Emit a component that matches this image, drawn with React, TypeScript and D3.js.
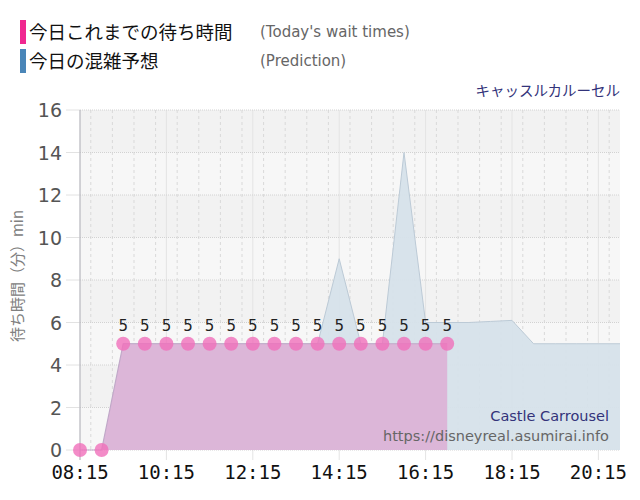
import { useEffect, useRef } from "react";
import * as d3 from "d3";

const actualTimes = [
  "08:15","08:45","09:15","09:45","10:15","10:45","11:15","11:45","12:15",
  "12:45","13:15","13:45","14:15","14:45","15:15","15:45","16:15","16:45",
];
const actualValues = [0,0,5,5,5,5,5,5,5,5,5,5,5,5,5,5,5,5];

const predTimes = [
  "09:15","09:45","10:15","10:45","11:15","11:45","12:15","12:45","13:15",
  "13:45","14:15","14:45","15:15","15:45","16:15","16:45","17:15","17:45",
  "18:15","18:45","19:15","19:45","20:15","20:45",
];
const predValues = [5,5,5,5,5,5,5,5,5,5,9,5,5,14,6,6,6,6.05,6.1,5,5,5,5,5];

const xTickLabels = ["08:15","10:15","12:15","14:15","16:15","18:15","20:15"];
const yTicks = [0,2,4,6,8,10,12,14,16];
const domainStart = "08:15";
const domainEnd = "20:45";

const W = 640;
const H = 500;
const M = { left: 80, right: 20, top: 110, bottom: 50 };

export default function App() {
  const svgRef = useRef<SVGSVGElement>(null);

  useEffect(() => {
    if (!svgRef.current) return;
    const el = svgRef.current;
    d3.select(el).selectAll("*").remove();
    const svg = d3.select(el).attr("width", W).attr("height", H);

    const parse = d3.timeParse("%H:%M");
    const x = d3.scaleTime()
      .domain([parse(domainStart)!, parse(domainEnd)!])
      .range([M.left, W - M.right]);
    const y = d3.scaleLinear().domain([0, 16]).range([H - M.bottom, M.top]);

    const actual = actualTimes.map((t, i) => ({ t: parse(t)!, v: actualValues[i] }));
    const pred = predTimes.map((t, i) => ({ t: parse(t)!, v: predValues[i] }));

    const x0 = M.left, x1 = W - M.right;
    const font = "'DejaVu Sans', Verdana, sans-serif";
    const jp = "'Noto Sans CJK JP', sans-serif";

    // background bands (alternating, top band darker)
    for (let i = 0; i < yTicks.length - 1; i++) {
      const a = yTicks[i], b = yTicks[i + 1];
      svg.append("rect")
        .attr("x", x0).attr("y", y(b))
        .attr("width", x1 - x0).attr("height", y(a) - y(b))
        .attr("fill", i % 2 === 0 ? "#f7f7f7" : "#f2f2f2");
    }

    // vertical minor grid every 30 min
    const minor = d3.timeMinute.every(30)!.range(parse(domainStart)!, d3.timeMinute.offset(parse(domainEnd)!, 1));
    svg.append("g").selectAll("line")
      .data(minor)
      .join("line")
      .attr("x1", (d) => x(d)).attr("x2", (d) => x(d))
      .attr("y1", y(16)).attr("y2", y(0))
      .attr("stroke", "#d9d9d9").attr("stroke-dasharray", "3,3");

    // major vertical lines
    const majors = xTickLabels.map((t) => parse(t)!);
    svg.append("g").selectAll("line")
      .data(majors)
      .join("line")
      .attr("x1", (d) => x(d)).attr("x2", (d) => x(d))
      .attr("y1", y(16)).attr("y2", y(0) + 10)
      .attr("stroke", "#e4e4e4");

    // horizontal grid
    svg.append("g").selectAll("line")
      .data(yTicks)
      .join("line")
      .attr("x1", x0).attr("x2", x1)
      .attr("y1", (d) => y(d)).attr("y2", (d) => y(d))
      .attr("stroke", "#d2d2d2").attr("stroke-dasharray", "1,1");
    svg.append("g").selectAll("line")
      .data(yTicks)
      .join("line")
      .attr("x1", x0 - 14).attr("x2", x0)
      .attr("y1", (d) => y(d)).attr("y2", (d) => y(d))
      .attr("stroke", "#e2e2e2");

    // left axis
    svg.append("line")
      .attr("x1", x0).attr("x2", x0)
      .attr("y1", y(16)).attr("y2", y(0) + 10)
      .attr("stroke", "#b4b4bc");

    const area = d3.area<{ t: Date; v: number }>()
      .x((d) => x(d.t)).y0(y(0)).y1((d) => y(d.v));
    const line = d3.line<{ t: Date; v: number }>()
      .x((d) => x(d.t)).y((d) => y(d.v));

    // prediction area
    svg.append("path").datum(pred)
      .attr("d", area).attr("fill", "#d6e1ea").attr("opacity", 0.95);
    svg.append("path").datum(pred)
      .attr("d", line).attr("fill", "none").attr("stroke", "#bccad6").attr("stroke-width", 1);

    // actual area
    svg.append("path").datum(actual)
      .attr("d", area).attr("fill", "#dcb6d8");
    svg.append("path").datum(actual)
      .attr("d", line).attr("fill", "none").attr("stroke", "#c0a8c8").attr("stroke-width", 1.2);

    svg.append("g").selectAll("circle")
      .data(actual)
      .join("circle")
      .attr("cx", (d) => x(d.t)).attr("cy", (d) => y(d.v))
      .attr("r", 7)
      .attr("fill", "#f06fba").attr("opacity", 0.8);

    svg.append("g").selectAll("text")
      .data(actual.filter((d) => d.v > 0))
      .join("text")
      .attr("x", (d) => x(d.t)).attr("y", (d) => y(d.v) - 13)
      .attr("text-anchor", "middle")
      .attr("font-family", font).attr("font-size", 15).attr("fill", "#222")
      .text((d) => d.v);

    // y tick labels
    svg.append("g").selectAll("text")
      .data(yTicks)
      .join("text")
      .attr("x", 62).attr("y", (d) => y(d) + 7)
      .attr("text-anchor", "end")
      .attr("font-family", font).attr("font-size", 19).attr("fill", "#555")
      .text((d) => d);

    // x tick labels
    svg.append("g").selectAll("text")
      .data(majors)
      .join("text")
      .attr("x", (d) => x(d)).attr("y", 479)
      .attr("text-anchor", "middle")
      .attr("font-family", "'DejaVu Sans Mono', monospace").attr("font-size", 19).attr("fill", "#111")
      .text((d) => d3.timeFormat("%H:%M")(d));

    // y axis title
    svg.append("text")
      .attr("transform", `translate(23,${y(8) - 4}) rotate(-90)`)
      .attr("text-anchor", "middle")
      .attr("font-family", jp).attr("font-size", 15).attr("fill", "#808080")
      .text("待ち時間（分）min");

    // legend
    svg.append("rect").attr("x", 20).attr("y", 20).attr("width", 6).attr("height", 24).attr("fill", "#f02890");
    svg.append("rect").attr("x", 20).attr("y", 49).attr("width", 6).attr("height", 24).attr("fill", "#4a86b8");
    svg.append("text").attr("x", 29).attr("y", 39)
      .attr("font-family", jp).attr("font-size", 18.5).attr("fill", "#111")
      .text("今日これまでの待ち時間");
    svg.append("text").attr("x", 29).attr("y", 68)
      .attr("font-family", jp).attr("font-size", 18.5).attr("fill", "#111")
      .text("今日の混雑予想");
    svg.append("text").attr("x", 260).attr("y", 37)
      .attr("font-family", font).attr("font-size", 15).attr("fill", "#666")
      .text("(Today's wait times)");
    svg.append("text").attr("x", 260).attr("y", 66)
      .attr("font-family", font).attr("font-size", 15).attr("fill", "#666")
      .text("(Prediction)");

    svg.append("text").attr("x", 620).attr("y", 96)
      .attr("text-anchor", "end")
      .attr("font-family", jp).attr("font-size", 14.5).attr("fill", "#33337a")
      .text("キャッスルカルーセル");

    svg.append("text").attr("x", 609).attr("y", 421)
      .attr("text-anchor", "end")
      .attr("font-family", font).attr("font-size", 14.5).attr("fill", "#33337a")
      .text("Castle Carrousel");
    svg.append("text").attr("x", 609).attr("y", 441)
      .attr("text-anchor", "end")
      .attr("font-family", font).attr("font-size", 14.5).attr("fill", "#666")
      .text("https://disneyreal.asumirai.info");
  }, []);

  return (
    <div style={{ position: "absolute", left: 0, top: 0 }}>
      <svg ref={svgRef} style={{ display: "block" }} />
    </div>
  );
}
